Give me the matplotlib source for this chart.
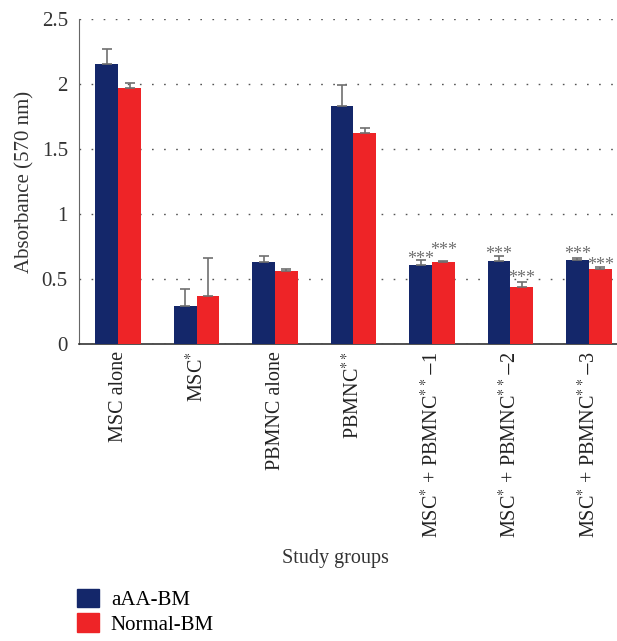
import numpy as np
import matplotlib.pyplot as plt
from matplotlib.patches import Patch

plt.rcParams['font.family'] = ['Liberation Serif', 'DejaVu Serif']
plt.rcParams['mathtext.fontset'] = 'stix'

# Data
groups = ['MSC alone', 'MSC$^{*}$', 'PBMNC alone', 'PBMNC$^{**}$',
          'MSC$^{*}$ + PBMNC$^{**}$$-$1', 'MSC$^{*}$ + PBMNC$^{**}$$-$2',
          'MSC$^{*}$ + PBMNC$^{**}$$-$3']
aaa_bm = [2.15, 0.29, 0.63, 1.83, 0.61, 0.64, 0.645]
aaa_err = [0.12, 0.135, 0.05, 0.165, 0.04, 0.035, 0.02]
normal_bm = [1.97, 0.37, 0.56, 1.62, 0.63, 0.44, 0.577]
normal_err = [0.04, 0.295, 0.02, 0.04, 0.01, 0.04, 0.018]
# significance marks ("***") and the height they sit at, None if absent
aaa_sig = [None, None, None, None, '***', '***', '***']
aaa_sig_y = [None, None, None, None, 0.70, 0.74, 0.74]
normal_sig = [None, None, None, None, '***', '***', '***']
normal_sig_y = [None, None, None, None, 0.77, 0.555, 0.655]

blue = '#14276a'
red = '#ee2427'
gray = '#707070'

fig = plt.figure(figsize=(6.17, 6.41), dpi=100)
ax = fig.add_axes([0.128, 0.4633, 0.872, 0.5071])

x = np.arange(len(groups))
w = 0.29
zeros = np.zeros(len(groups))

ax.bar(x - w / 2, aaa_bm, w, color=blue, zorder=3,
       yerr=[zeros, aaa_err], error_kw=dict(ecolor=gray, elinewidth=1.2, capsize=3.5, capthick=1.2))
ax.bar(x + w / 2, normal_bm, w, color=red, zorder=3,
       yerr=[zeros, normal_err], error_kw=dict(ecolor=gray, elinewidth=1.2, capsize=3.5, capthick=1.2))

# stars above the error bars (glyph sits ~0.085 above baseline)
for i in range(len(groups)):
    if aaa_sig[i]:
        ax.text(x[i] - w / 2, aaa_sig_y[i] - 0.085, aaa_sig[i],
                ha='center', va='baseline', fontsize=13, color=gray, zorder=4)
    if normal_sig[i]:
        ax.text(x[i] + w / 2, normal_sig_y[i] - 0.085, normal_sig[i],
                ha='center', va='baseline', fontsize=13, color=gray, zorder=4)

ax.set_xlim(-0.5, 6.36)
ax.set_ylim(0, 2.5)
ax.set_yticks([0, 0.5, 1, 1.5, 2, 2.5])
ax.set_yticklabels(['0', '0.5', '1', '1.5', '2', '2.5'], fontsize=15, color='#333333')
ax.set_xticks(x)
ax.set_xticklabels(groups, rotation=90, fontsize=14.5, color='#222222')
ax.tick_params(axis='y', length=0, pad=8)
ax.tick_params(axis='x', length=0, pad=5)

ax.yaxis.grid(True, linestyle=(0, (1.2, 7.5)), color='#555555', linewidth=1.0, zorder=0)
ax.set_axisbelow(True)

for s in ['top', 'right']:
    ax.spines[s].set_visible(False)
ax.spines['left'].set_color('#666666')
ax.spines['bottom'].set_color('#333333')
ax.spines['bottom'].set_linewidth(1.2)

ax.set_ylabel('Absorbance (570 nm)', fontsize=15, color='#333333', labelpad=5)
fig.text(335 / 617, 1 - 558 / 641, 'Study groups', ha='center', va='center',
         fontsize=14.5, color='#333333')

handles = [Patch(color=blue, label='aAA-BM'), Patch(color=red, label='Normal-BM')]
fig.legend(handles=handles, loc='lower left', bbox_to_anchor=(0.112, -0.003),
           frameon=False, fontsize=15, handlelength=1.05, handleheight=1.0,
           handletextpad=0.55, labelspacing=0.15, borderaxespad=0)

fig.savefig('out.png', dpi=100)
